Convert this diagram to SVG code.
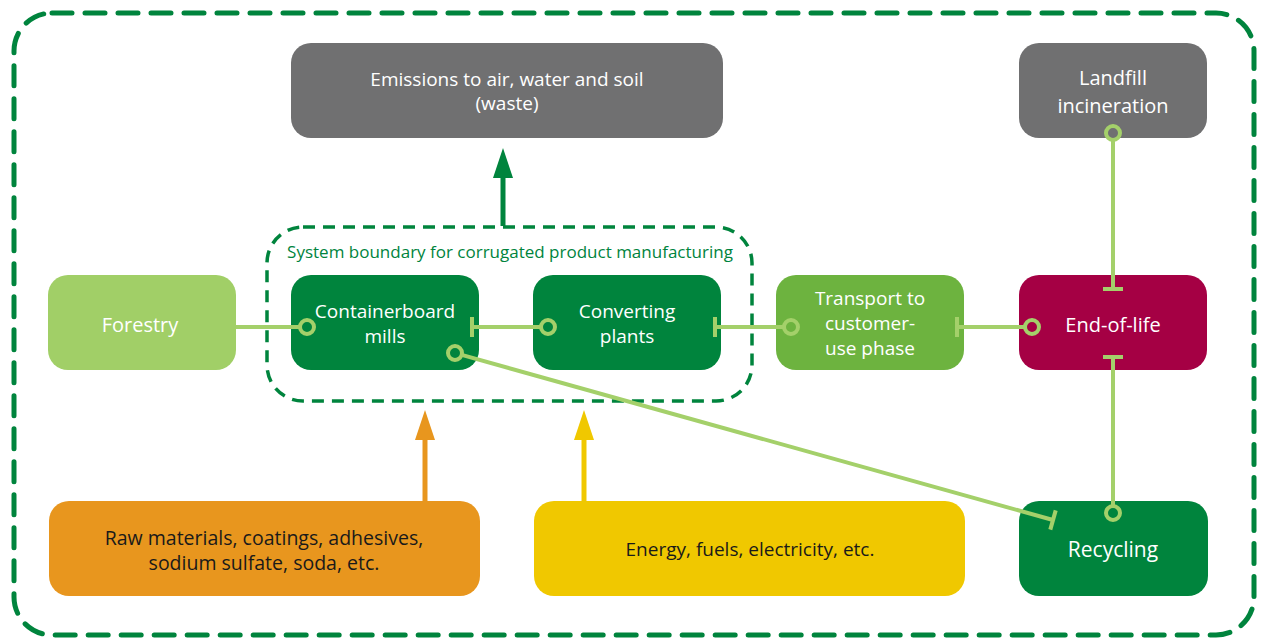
<svg xmlns="http://www.w3.org/2000/svg" width="1262" height="641" viewBox="0 0 1262 641">
<defs>
<style>
.box{stroke:none}
.t{font-family:"Open Sans","Liberation Sans",sans-serif;fill:#fff;text-anchor:middle;font-size:19px}
.dk{fill:#1a1a1a}
.c{stroke:#a4d06a;stroke-width:4;fill:none;stroke-linecap:butt}
</style>
</defs>
<rect width="1262" height="641" fill="#fff"/>
<rect x="14" y="13" width="1240" height="622" rx="38" fill="none" stroke="#00843d" stroke-width="5" stroke-dasharray="20 13" stroke-linecap="round"/>
<g id="boundary">
<rect x="267" y="227" width="485" height="174" rx="36" fill="none" stroke="#00843d" stroke-width="3.5" stroke-dasharray="12 8"/>
<text x="510" y="258" class="t" style="fill:#00843d;font-size:17px">System boundary for corrugated product manufacturing</text>
</g>
<g id="emissions"><rect class="box" x="291" y="43" width="432" height="95" rx="20" fill="#707071"/>
<text class="t" x="507" y="86">Emissions to air, water and soil</text><text class="t" x="507" y="110">(waste)</text></g>
<g id="landfill"><rect class="box" x="1019" y="43" width="188" height="95" rx="20" fill="#707071"/>
<text class="t" x="1113" y="85" style="font-size:20px">Landfill</text><text class="t" x="1113" y="113" style="font-size:20px">incineration</text></g>
<g id="forestry"><rect class="box" x="48" y="275" width="188" height="95" rx="20" fill="#a1cf67"/>
<text class="t" x="140" y="332" style="font-size:20px">Forestry</text></g>
<g id="containerboard"><rect class="box" x="291" y="275" width="188" height="95" rx="20" fill="#00843d"/>
<text class="t" x="385" y="318">Containerboard</text><text class="t" x="385" y="343">mills</text></g>
<g id="converting"><rect class="box" x="533" y="275" width="188" height="95" rx="20" fill="#00843d"/>
<text class="t" x="627" y="318">Converting</text><text class="t" x="627" y="343">plants</text></g>
<g id="transport"><rect class="box" x="776" y="275" width="188" height="95" rx="20" fill="#6db33f"/>
<text class="t" x="870" y="305">Transport to</text><text class="t" x="870" y="330">customer-</text><text class="t" x="870" y="355">use phase</text></g>
<g id="endoflife"><rect class="box" x="1019" y="275" width="188" height="95" rx="20" fill="#a50044"/>
<text class="t" x="1113" y="332" style="font-size:20px">End-of-life</text></g>
<g id="rawmaterials"><rect class="box" x="49" y="501" width="431" height="95" rx="20" fill="#e8961e"/>
<text class="t dk" x="264" y="545" style="font-size:19.5px">Raw materials, coatings, adhesives,</text><text class="t dk" x="264" y="570" style="font-size:19.5px">sodium sulfate, soda, etc.</text></g>
<g id="energy"><rect class="box" x="534" y="501" width="431" height="95" rx="20" fill="#f0c800"/>
<text class="t dk" x="750" y="556">Energy, fuels, electricity, etc.</text></g>
<g id="recycling"><rect class="box" x="1019" y="501" width="189" height="95" rx="20" fill="#00843d"/>
<text class="t" x="1113" y="557" style="font-size:21px">Recycling</text></g>
<g id="connectors">
<g fill="#00843d"><line x1="503" y1="226" x2="503" y2="170" stroke="#00843d" stroke-width="5"/><path d="M493,178 L503,148 L513,178 Z"/></g>
<g fill="#e8961e"><line x1="425" y1="501" x2="425" y2="430" stroke="#e8961e" stroke-width="5"/><path d="M415,440 L425,410 L435,440 Z"/></g>
<g fill="#f0c800"><line x1="584" y1="501" x2="584" y2="430" stroke="#f0c800" stroke-width="5"/><path d="M574,440 L584,410 L594,440 Z"/></g>
<line class="c" x1="236" y1="327" x2="300" y2="327"/><circle class="c" cx="307" cy="327" r="7"/>
<line class="c" x1="472" y1="327" x2="541" y2="327"/><line class="c" x1="472" y1="317" x2="472" y2="337"/><circle class="c" cx="548" cy="327" r="7"/>
<line class="c" x1="715" y1="327" x2="784" y2="327"/><line class="c" x1="715" y1="317" x2="715" y2="337"/><circle class="c" cx="791" cy="327" r="7"/>
<line class="c" x1="957" y1="327" x2="1025" y2="327"/><line class="c" x1="957" y1="317" x2="957" y2="337"/><circle class="c" cx="1032" cy="327" r="7"/>
<circle class="c" cx="1113" cy="133" r="7"/><line class="c" x1="1113" y1="140" x2="1113" y2="289"/><line class="c" x1="1103" y1="289" x2="1123" y2="289"/>
<line class="c" x1="1103" y1="357" x2="1123" y2="357"/><line class="c" x1="1113" y1="357" x2="1113" y2="506"/><circle class="c" cx="1113" cy="513" r="7"/>
<circle class="c" cx="455" cy="353" r="7"/><line class="c" x1="461.7" y1="354.9" x2="1053" y2="520"/><line class="c" x1="1055.7" y1="510.4" x2="1050.3" y2="529.6"/>
</g>
</svg>
